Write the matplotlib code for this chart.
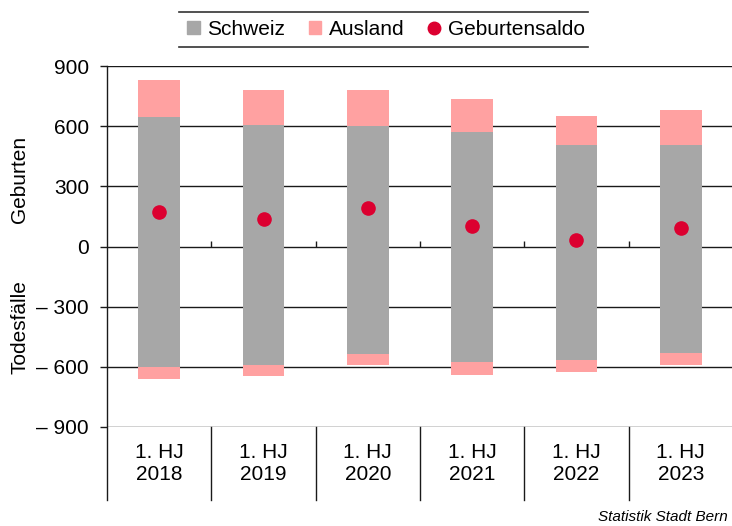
import matplotlib
matplotlib.use("Agg")
import matplotlib.pyplot as plt
from matplotlib.lines import Line2D
from matplotlib.patches import Patch

plt.rcParams['font.family'] = ['Liberation Sans', 'DejaVu Sans']

categories = ['1. HJ\n2018', '1. HJ\n2019', '1. HJ\n2020', '1. HJ\n2021', '1. HJ\n2022', '1. HJ\n2023']
births_ch = [648, 608, 603, 570, 507, 505]
births_aus = [184, 173, 178, 163, 146, 178]
deaths_ch = [599, 591, 537, 577, 566, 532]
deaths_aus = [63, 53, 56, 63, 58, 59]
saldo = [172, 139, 192, 101, 31, 93]
yticks = [-900, -600, -300, 0, 300, 600, 900]

gray = '#A7A7A7'
pink = '#FFA1A1'
red = '#DC0030'
linec = '#1a1a1a'

fig = plt.figure(figsize=(7.32, 5.26), dpi=100)
ax = fig.add_axes([107 / 732, 1 - 427 / 526, 626 / 732, 361 / 526])

x = list(range(len(categories)))
neg_ch = [-v for v in deaths_ch]
neg_aus = [-v for v in deaths_aus]

ax.bar(x, births_ch, width=0.4, color=gray, zorder=2)
ax.bar(x, births_aus, width=0.4, bottom=births_ch, color=pink, zorder=2)
ax.bar(x, neg_ch, width=0.4, color=gray, zorder=2)
ax.bar(x, neg_aus, width=0.4, bottom=neg_ch, color=pink, zorder=2)
ax.plot(x, saldo, 'o', color=red, markersize=9.5, zorder=3)

ax.set_xlim(-0.5, len(categories) - 0.5)
ax.set_ylim(-900, 900)
ax.set_yticks(yticks)
ax.set_yticklabels([('– ' + str(-v)) if v < 0 else str(v) for v in yticks], fontsize=15)
ax.tick_params(axis='y', length=5, width=1, color=linec, pad=8)
ax.set_xticks([])
for v in yticks:
    ax.axhline(v, color=linec, lw=1, zorder=1)

for s in ['top', 'right', 'bottom', 'left']:
    ax.spines[s].set_visible(False)

# left spine and category separators running down through the label area
ext = -(500 - 427) / 361
for b in [i - 0.5 for i in range(len(categories) + 1)]:
    ax.plot([b, b], [1, ext] if b < 0 else [0, ext], transform=ax.get_xaxis_transform(),
            color=linec, lw=1, clip_on=False)
    if 0 < b < len(categories) - 0.5:
        ax.vlines(b, 0, 25, color=linec, lw=1, zorder=1)

for i, c in enumerate(categories):
    ax.text(i, -0.101, c, transform=ax.get_xaxis_transform(), ha='center', va='center',
            fontsize=15, linespacing=1.15)

fig.text(20 / 732, 1 - 179 / 526, 'Geburten', rotation=90, ha='center', va='center', fontsize=15)
fig.text(20 / 732, 1 - 327 / 526, 'Todesfälle', rotation=90, ha='center', va='center', fontsize=15)

handles = [Patch(color=gray), Patch(color=pink),
           Line2D([], [], marker='o', color=red, linestyle='none', markersize=9)]
fig.legend(handles, ['Schweiz', 'Ausland', 'Geburtensaldo'], loc='center',
           bbox_to_anchor=(386 / 732, 1 - 29.5 / 526), ncol=3, frameon=False,
           fontsize=15, handlelength=0.6, handleheight=0.6, handletextpad=0.35,
           columnspacing=1.15, borderpad=0)
for yy in [12, 47]:
    fig.add_artist(Line2D([179 / 732, 588 / 732], [1 - yy / 526] * 2, color='#333333', lw=1.2))

fig.text(728 / 732, 1 - 517 / 526, 'Statistik Stadt Bern', ha='right', va='center',
         fontsize=11, style='italic')

fig.savefig('out.png', dpi=100)
